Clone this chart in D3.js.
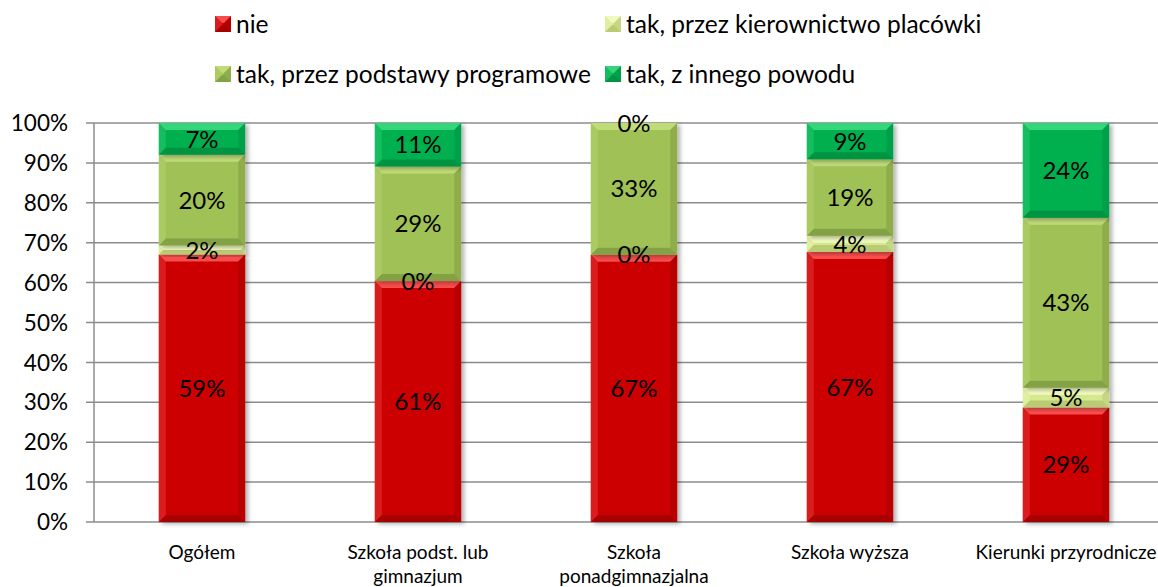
<!DOCTYPE html>
<html><head><meta charset="utf-8">
<script src="https://cdn.jsdelivr.net/npm/d3@7"></script>
<style>body{margin:0;background:#fff;} svg{display:block;font-family:Lato,"Liberation Sans",sans-serif;}</style>
</head><body>
<svg id="c" width="1158" height="587"></svg>
<script>
const categories = [["Ogółem"],["Szkoła podst. lub","gimnazjum"],["Szkoła","ponadgimnazjalna"],["Szkoła wyższa"],["Kierunki przyrodnicze"]];
const seriesNames = ["nie","tak, przez kierownictwo placówki","tak, przez podstawy programowe","tak, z innego powodu"];
const nie = [59,61,67,67,29];
const kierownictwo = [2,0,0,4,5];
const podstawy = [20,29,33,19,43];
const innego = [7,11,0,9,24];
const yTicks = [0,0.1,0.2,0.3,0.4,0.5,0.6,0.7,0.8,0.9,1];
const colors = ["#cc0000","#d6e88e","#9fc157","#00b050"];
const hiColors = ["#ff5a5a","#f4fdc8","#c6e07e","#3fdc84"];
const loColors = ["#8e0000","#a7b866","#728d37","#00803a"];

const keys = ["s0","s1","s2","s3"];
const rows = categories.map((c,i)=>({cat:i, s0:nie[i], s1:kierownictwo[i], s2:podstawy[i], s3:innego[i]}));
const stack = d3.stack().keys(keys).offset(d3.stackOffsetExpand)(rows);

const svg = d3.select("#c");
const m = {left:94, top:123, bottom:65};
const H = 587 - m.top - m.bottom; // 399
const W = 1080;
const x = d3.scaleBand().domain(d3.range(categories.length)).range([m.left, m.left+W]).paddingInner(0.6).paddingOuter(0.3);
const y = d3.scaleLinear().domain([0,1]).range([m.top+H, m.top]);

// grid
svg.append("g").selectAll("line").data(yTicks).join("line")
  .attr("x1", m.left-8).attr("x2", 1158).attr("y1", d=>y(d)).attr("y2", d=>y(d))
  .attr("stroke","#8c8c8c").attr("stroke-width",1.5);
svg.append("line").attr("x1",m.left).attr("x2",m.left).attr("y1",y(0)).attr("y2",y(1)).attr("stroke","#8c8c8c").attr("stroke-width",1.5);

svg.append("g").selectAll("text").data(yTicks).join("text")
  .attr("x", 68).attr("y", d=>y(d)).attr("dy","0.36em").attr("text-anchor","end")
  .attr("font-size",22.5).attr("fill","#000").text(d=>d3.format(".0%")(d));

const defs = svg.append("defs");
const f = defs.append("filter").attr("id","sh").attr("x","-20%").attr("y","-20%").attr("width","140%").attr("height","140%");
f.append("feDropShadow").attr("dx",3).attr("dy",2).attr("stdDeviation",2).attr("flood-color","#000").attr("flood-opacity",0.3);

const bw = x.bandwidth();
function bevel(g, x0, y0, w, h, si){
  const b = Math.min(7, h/2, w/2);
  g.append("rect").attr("x",x0).attr("y",y0).attr("width",w).attr("height",h).attr("fill",colors[si]);
  if(h<=0) return;
  const x1=x0+w, y1=y0+h;
  g.append("polygon").attr("points",[[x0,y0],[x1,y0],[x1-b,y0+b],[x0+b,y0+b]].join(" ")).attr("fill",hiColors[si]).attr("opacity",0.85);
  g.append("polygon").attr("points",[[x0,y1],[x1,y1],[x1-b,y1-b],[x0+b,y1-b]].join(" ")).attr("fill",loColors[si]).attr("opacity",0.6);
  g.append("polygon").attr("points",[[x0,y0],[x0+b,y0+b],[x0+b,y1-b],[x0,y1]].join(" ")).attr("fill",hiColors[si]).attr("opacity",0.3);
  g.append("polygon").attr("points",[[x1,y0],[x1-b,y0+b],[x1-b,y1-b],[x1,y1]].join(" ")).attr("fill",loColors[si]).attr("opacity",0.35);
}

const bars = svg.append("g");
stack.forEach((layer, si)=>{
  layer.forEach((d,i)=>{
    const g = bars.append("g").attr("filter","url(#sh)");
    const y0 = y(d[1]), h = y(d[0]) - y(d[1]);
    bevel(g, x(i), y0, bw, h, si);
  });
});

const lab = svg.append("g");
stack.forEach((layer, si)=>{
  layer.forEach((d,i)=>{
    const v = rows[i][keys[si]];
    lab.append("text").attr("x", x(i)+bw/2).attr("y", (y(d[0])+y(d[1]))/2).attr("dy","0.36em")
      .attr("text-anchor","middle").attr("font-size",24).attr("fill","#000").text(v+"%");
  });
});

const cg = svg.append("g");
categories.forEach((lines,i)=>{
  const t = cg.append("text").attr("text-anchor","middle").attr("font-size",19).attr("fill","#000");
  lines.forEach((ln,k)=>{
    t.append("tspan").attr("x", x(i)+bw/2).attr("y", 559 + k*24).text(ln);
  });
});

const legPos = [[215,24],[605,24],[215,74],[605,74]];
const lg = svg.append("g");
seriesNames.forEach((n,i)=>{
  const [lx,ly] = legPos[i];
  const g = lg.append("g");
  bevel(g, lx, ly-8, 16, 16, i);
  lg.append("text").attr("x", lx+21).attr("y", ly).attr("dy","0.36em").attr("font-size",24.5).attr("fill","#000").text(n);
});
</script>
</body></html>
